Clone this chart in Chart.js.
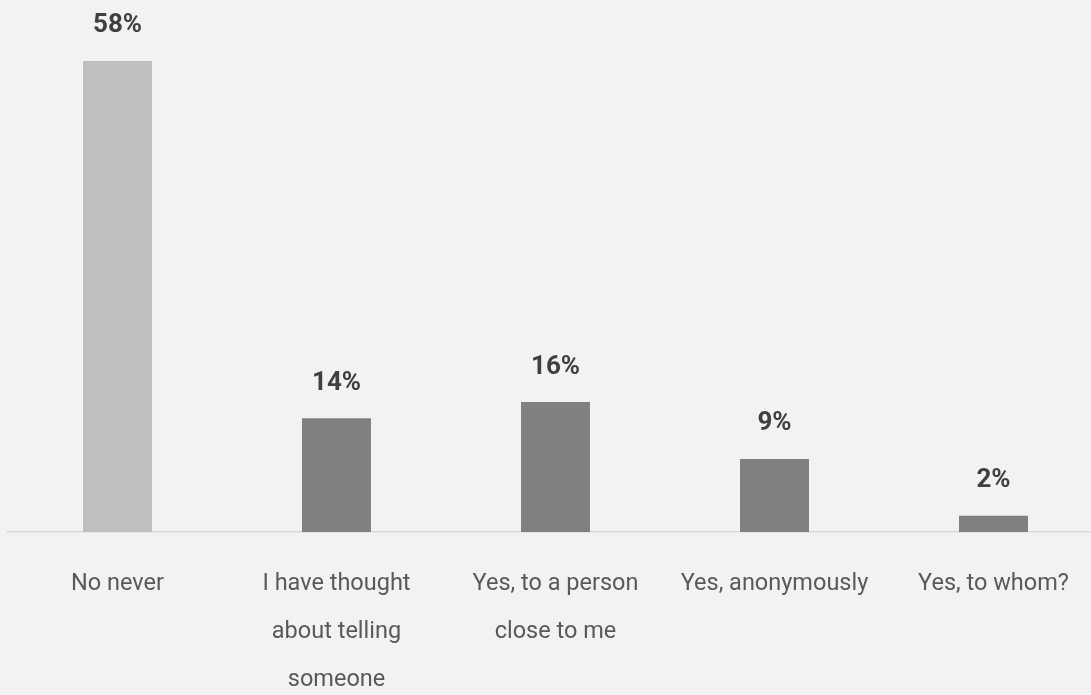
<!DOCTYPE html>
<html>
<head>
<meta charset="utf-8">
<script src="https://cdn.jsdelivr.net/npm/chart.js@4/dist/chart.umd.min.js"></script>
<style>
  html, body { margin: 0; padding: 0; background: #f2f2f2; overflow: hidden; }
  #wrap { position: relative; width: 1103px; height: 695px; }
</style>
</head>
<body>
<div id="wrap"><canvas id="chart"></canvas></div>
<script>
// Survey answers and their shares (percent)
const categories = [
  ["No never"],
  ["I have thought", "about telling", "someone"],
  ["Yes, to a person", "close to me"],
  ["Yes, anonymously"],
  ["Yes, to whom?"]
];
const shares = [58, 14, 16, 9, 2];
const barColors = ["#bfbfbf", "#808080", "#808080", "#808080", "#808080"];

// Draws the bold percentage above each bar
const valueLabels = {
  id: "valueLabels",
  afterDatasetsDraw(chart) {
    const ctx = chart.ctx;
    const meta = chart.getDatasetMeta(0);
    ctx.save();
    ctx.font = "bold 26px Roboto";
    ctx.fillStyle = "#404040";
    ctx.textAlign = "center";
    ctx.textBaseline = "middle";
    meta.data.forEach((bar, i) => {
      ctx.fillText(shares[i] + "%", bar.x, bar.y - 35);
    });
    ctx.restore();
  }
};

new Chart(document.getElementById("chart"), {
  type: "bar",
  data: {
    labels: categories,
    datasets: [{
      data: shares,
      backgroundColor: barColors,
      borderWidth: 0,
      barPercentage: 0.315,
      categoryPercentage: 1
    }]
  },
  options: {
    responsive: true,
    maintainAspectRatio: false,
    animation: false,
    layout: { padding: { left: 8, right: 0, top: 0, bottom: 0 } },
    plugins: {
      legend: { display: false },
      tooltip: { enabled: false }
    },
    scales: {
      x: {
        grid: { display: false, drawTicks: false },
        border: { display: true, color: "#d9d9d9", width: 1.5 },
        ticks: {
          color: "#595959",
          font: { family: "Roboto", size: 23.5, lineHeight: 2.04 },
          padding: 28,
          maxRotation: 0,
          autoSkip: false
        },
        afterFit(scale) { scale.height = 163; }
      },
      y: {
        display: false,
        min: 0,
        max: 65.5
      }
    }
  },
  plugins: [valueLabels]
});
</script>
</body>
</html>
